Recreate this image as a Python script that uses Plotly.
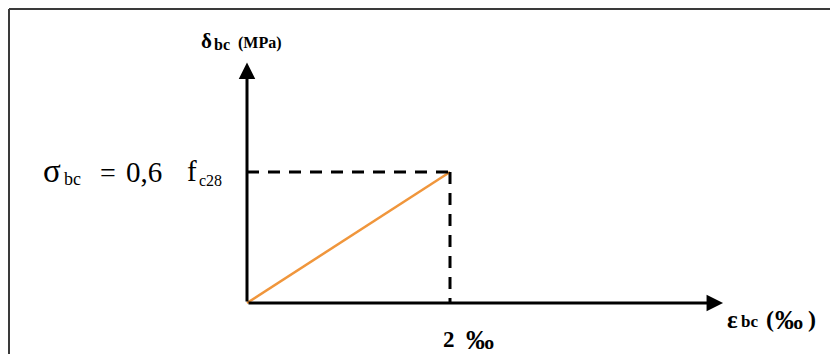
import plotly.graph_objects as go

# Data (strain in per mille, stress normalised to 0.6 fc28)
strain = [0, 2]
stress = [0, 1]
strain_limit = 2
stress_limit = 1
x_axis_end = 4.69
y_axis_end = 1.835

# The page body has an 8px margin, so the figure is 8px smaller on each axis
OFF = 8
W, H = 838 - OFF, 354 - OFF
# reference pixel mapping: x=0 -> 247px, x=2 -> 450px ; y=0 -> 303px, y=1 -> 172px
sx = (450 - 247) / 2.0
sy = (303 - 172) / 1.0
x0p, y0p = 247 - OFF, 303 - OFF
x_range = [-x0p / sx, (W - x0p) / sx]
y_range = [-(H - y0p) / sy, y0p / sy]

def px(xp):
    return (xp - OFF) / W

def py(yp):
    return 1 - (yp - OFF) / H

FONT = "Liberation Serif"

def label(text, x, y, size, xref="paper", xanchor="left"):
    return dict(x=(px(x) if xref == "paper" else x), y=py(y), xref=xref, yref="paper",
                xanchor=xanchor, yanchor="middle", text=text, showarrow=False,
                font=dict(family=FONT, size=size, color="black"))

fig = go.Figure()

fig.add_trace(go.Scatter(
    x=strain, y=stress, mode="lines",
    line=dict(color="#F0963C", width=2.5),
    hoverinfo="skip", showlegend=False,
))

shapes = [
    # dashed guides
    dict(type="line", xref="x", yref="y", x0=0, y0=stress_limit, x1=strain_limit, y1=stress_limit,
         line=dict(color="black", width=3, dash="12px,9px")),
    dict(type="line", xref="x", yref="y", x0=strain_limit, y0=stress_limit, x1=strain_limit, y1=0,
         line=dict(color="black", width=3, dash="12px,9px")),
    # frame
    dict(type="line", xref="paper", yref="paper", x0=px(9), y0=py(9), x1=1, y1=py(9),
         line=dict(color="#3a3a3a", width=2)),
    dict(type="line", xref="paper", yref="paper", x0=px(9), y0=py(9), x1=px(9), y1=0,
         line=dict(color="#3a3a3a", width=2)),
]

annotations = [
    # axes with arrows
    dict(x=x_axis_end, y=0, ax=0, ay=0, xref="x", yref="y", axref="x", ayref="y",
         text="", showarrow=True, arrowhead=2, arrowsize=1.1, arrowwidth=3, arrowcolor="black"),
    dict(x=0, y=y_axis_end, ax=0, ay=0, xref="x", yref="y", axref="x", ayref="y",
         text="", showarrow=True, arrowhead=2, arrowsize=1.1, arrowwidth=3, arrowcolor="black"),
    # y label
    label("<b>δ</b>", 199, 41, 21),
    label("<b>bc</b>", 212, 44, 16),
    label("<b>(MPa)</b>", 236, 43, 16),
    # stress level label
    label("σ", 41, 171, 33),
    label("bc", 62, 179, 18),
    label("=", 98, 172, 28),
    label("0,6", 124, 172, 29),
    label("f", 185, 171, 29),
    label("c28", 197, 180, 16),
    # strain limit label
    label("<b>2</b>", 441, 339, 23),
    label("<b>‰</b>", 464, 339, 28),
    # x label
    label("<b>ε</b>", 725, 319, 25),
    label("<b>bc</b>", 739, 321, 17),
    label("<b>(</b>", 764, 319, 24),
    label("<b>‰</b>", 773, 319, 28),
    label("<b>)</b>", 806, 319, 24),
]

fig.update_layout(
    width=W, height=H,
    margin=dict(l=0, r=0, t=0, b=0, pad=0),
    paper_bgcolor="white", plot_bgcolor="white",
    xaxis=dict(range=x_range, visible=False, fixedrange=True),
    yaxis=dict(range=y_range, visible=False, fixedrange=True),
    shapes=shapes, annotations=annotations, showlegend=False,
)

fig.write_html("out.html")
